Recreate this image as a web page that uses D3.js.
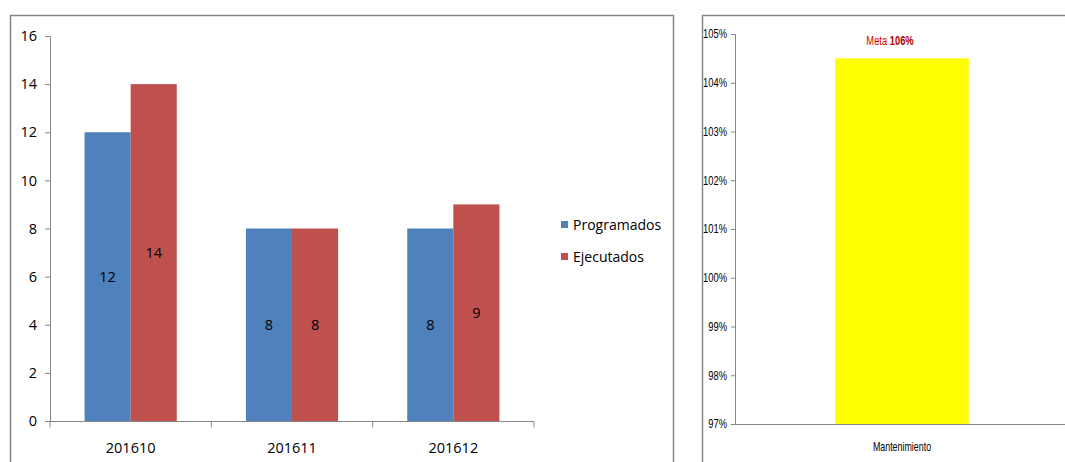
<!DOCTYPE html>
<html>
<head>
<meta charset="utf-8">
<script src="https://cdn.jsdelivr.net/npm/d3@7"></script>
<style>
  html, body { margin: 0; padding: 0; background: #fff; }
  svg { display: block; }
</style>
</head>
<body>
<svg id="chart" width="1065" height="462"></svg>
<script>
// Monthly counts: programmed vs executed
const periods = ["201610", "201611", "201612"];
const seriesNames = ["Programados", "Ejecutados"];
const programados = [12, 8, 8];
const ejecutados = [14, 8, 9];
const seriesColors = ["#4F81BD", "#C0504D"];
const leftTicks = [0, 2, 4, 6, 8, 10, 12, 14, 16];

// Maintenance compliance
const areas = ["Mantenimiento"];
const cumplimiento = [1.045];
const metaLabel = ["Meta ", "106%"];
const rightTicks = [0.97, 0.98, 0.99, 1.00, 1.01, 1.02, 1.03, 1.04, 1.05];

const svg = d3.select("#chart");
const axisGray = "#868686";
const mainFont = "'Open Sans', 'Noto Sans', sans-serif";
const narrowFont = "'Liberation Sans', Arial, sans-serif";

// draws narrow text by squeezing a regular face horizontally
function narrowText(sel, x, y, k) {
  sel.attr("x", 0).attr("y", 0)
     .attr("transform", `translate(${x},${y}) scale(${k},1)`);
}

// ---------- Left panel: grouped columns ----------
svg.append("path")
  .attr("d", "M10.5,470 V15.5 H673.5 V470")
  .attr("fill", "none").attr("stroke", axisGray).attr("stroke-width", 1.5);

const L = { x0: 50, x1: 534, y0: 421, y1: 36 };
const x0 = d3.scaleBand().domain(periods).range([L.x0, L.x1]).paddingInner(0).paddingOuter(0);
const yL = d3.scaleLinear().domain([0, 16]).range([L.y0, L.y1]);
// bars take 2/3.5 of each category (gap width 150%)
const groupW = x0.bandwidth() * 2 / 3.5;
const x1 = d3.scaleBand().domain(seriesNames).range([0, groupW]);

const rows = periods.map((p, i) => ({ p, vals: [programados[i], ejecutados[i]] }));

const groups = svg.append("g").selectAll("g").data(rows).join("g")
  .attr("transform", d => `translate(${x0(d.p) + (x0.bandwidth() - groupW) / 2},0)`);

groups.selectAll("rect").data(d => d.vals.map((v, k) => ({ v, k })))
  .join("rect")
  .attr("x", d => x1(seriesNames[d.k]))
  .attr("width", x1.bandwidth())
  .attr("y", d => yL(d.v))
  .attr("height", d => yL(0) - yL(d.v))
  .attr("fill", d => seriesColors[d.k]);

groups.selectAll("text").data(d => d.vals.map((v, k) => ({ v, k })))
  .join("text")
  .attr("x", d => x1(seriesNames[d.k]) + x1.bandwidth() / 2)
  .attr("y", d => yL(d.v / 2))
  .attr("dy", "0.35em")
  .attr("text-anchor", "middle")
  .attr("font-family", mainFont).attr("font-size", 14.5).attr("fill", "#000")
  .text(d => d.v);

// y axis
const yAxisL = svg.append("g").attr("transform", `translate(${L.x0},0)`)
  .call(d3.axisLeft(yL).tickValues(leftTicks).tickSize(5).tickPadding(8));
yAxisL.select(".domain").attr("stroke", axisGray).attr("d", `M-5,${L.y1 + 0.5}H0.5V${L.y0}`);
yAxisL.selectAll(".tick line").attr("stroke", axisGray);
yAxisL.selectAll(".tick text").attr("font-family", mainFont).attr("font-size", 14.5).attr("fill", "#000");

// x axis with ticks between categories
const xAxisL = svg.append("g").attr("transform", `translate(0,${L.y0 + 0.5})`);
xAxisL.append("line").attr("x1", L.x0).attr("x2", L.x1).attr("stroke", axisGray);
xAxisL.selectAll(".sep").data(periods.concat(["end"])).join("line")
  .attr("x1", (d, i) => L.x0 + i * x0.bandwidth())
  .attr("x2", (d, i) => L.x0 + i * x0.bandwidth())
  .attr("y1", 0).attr("y2", 6).attr("stroke", axisGray);
xAxisL.selectAll("text").data(periods).join("text")
  .attr("x", d => x0(d) + x0.bandwidth() / 2)
  .attr("y", 26)
  .attr("dy", "0.35em")
  .attr("text-anchor", "middle")
  .attr("font-family", mainFont).attr("font-size", 14.5).attr("fill", "#000")
  .text(d => d);

// legend
const legend = svg.append("g").selectAll("g").data(seriesNames).join("g")
  .attr("transform", (d, i) => `translate(561,${221 + i * 32})`);
legend.append("rect").attr("width", 7).attr("height", 7).attr("fill", (d, i) => seriesColors[i]);
legend.append("text").attr("x", 12).attr("y", 4).attr("dy", "0.35em")
  .attr("font-family", mainFont).attr("font-size", 14).attr("fill", "#000")
  .text(d => d);

// ---------- Right panel: single column ----------
svg.append("path")
  .attr("d", "M702.5,470 V15.5 H1070")
  .attr("fill", "none").attr("stroke", axisGray).attr("stroke-width", 1.5);

const R = { x0: 735, x1: 1069, y0: 424, y1: 34 };
const xR = d3.scaleBand().domain(areas).range([R.x0, R.x1]).paddingInner(0.6).paddingOuter(0.3);
const yR = d3.scaleLinear().domain([0.97, 1.05]).range([R.y0, R.y1]);

svg.append("g").selectAll("rect").data(areas).join("rect")
  .attr("x", d => xR(d))
  .attr("width", xR.bandwidth())
  .attr("y", (d, i) => yR(cumplimiento[i]))
  .attr("height", (d, i) => yR(0.97) - yR(cumplimiento[i]))
  .attr("fill", "#FFFF00");

const yAxisR = svg.append("g").attr("transform", `translate(${R.x0},0)`)
  .call(d3.axisLeft(yR).tickValues(rightTicks).tickSize(4).tickFormat(d3.format(".0%")));
yAxisR.select(".domain").attr("stroke", axisGray).attr("d", `M-4,${R.y1 + 0.5}H0.5V${R.y0}`);
yAxisR.selectAll(".tick line").attr("stroke", axisGray);
yAxisR.selectAll(".tick text")
  .attr("font-family", narrowFont).attr("font-size", 12).attr("fill", "#000")
  .call(narrowText, -8, 0, 0.78);

svg.append("line").attr("x1", R.x0).attr("x2", 1065)
  .attr("y1", R.y0 + 0.5).attr("y2", R.y0 + 0.5).attr("stroke", axisGray);

svg.append("g").selectAll("text").data(areas).join("text")
  .attr("dy", "0.35em")
  .attr("text-anchor", "middle")
  .attr("font-family", narrowFont).attr("font-size", 12).attr("fill", "#000")
  .text(d => d)
  .each(function (d) {
    d3.select(this).call(narrowText, xR(d) + xR.bandwidth() / 2, R.y0 + 23, 0.74);
  });

// target label above the column
const meta = svg.append("text")
  .attr("dy", "0.35em")
  .attr("text-anchor", "middle")
  .attr("font-family", narrowFont).attr("font-size", 13)
  .call(narrowText, xR(areas[0]) + xR.bandwidth() / 2 - 12, 40, 0.72);
meta.append("tspan").attr("fill", "#E00000").text(metaLabel[0]);
meta.append("tspan").attr("fill", "#B00000").attr("font-weight", "bold").text(metaLabel[1]);
</script>
</body>
</html>
